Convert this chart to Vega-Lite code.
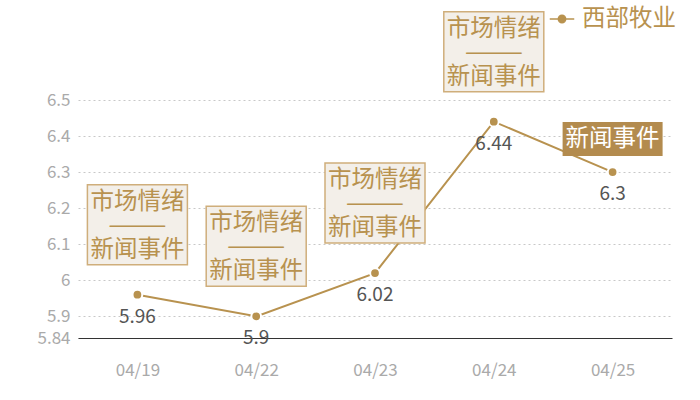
{
  "$schema": "https://vega.github.io/schema/vega-lite/v6.json",
  "width": 594,
  "height": 238,
  "autosize": "none",
  "padding": {"left": 78, "top": 100, "right": 28, "bottom": 62},
  "background": "white",
  "config": {
    "view": {"stroke": null},
    "font": "Noto Sans CJK SC"
  },
  "data": {
    "values": [
      {"date": "04/19", "value": 5.96, "series": "西部牧业", "kind": "both", "note": "市场情绪\n———\n新闻事件"},
      {"date": "04/22", "value": 5.9, "series": "西部牧业", "kind": "both", "note": "市场情绪\n———\n新闻事件"},
      {"date": "04/23", "value": 6.02, "series": "西部牧业", "kind": "both", "note": "市场情绪\n———\n新闻事件"},
      {"date": "04/24", "value": 6.44, "series": "西部牧业", "kind": "both", "note": "市场情绪\n———\n新闻事件"},
      {"date": "04/25", "value": 6.3, "series": "西部牧业", "kind": "news", "note": "新闻事件"}
    ]
  },
  "encoding": {
    "x": {
      "field": "date", "type": "ordinal",
      "scale": {"type": "point", "padding": 0.5},
      "axis": {
        "title": null, "labelAngle": 0, "ticks": false, "grid": false,
        "domainColor": "#333", "domainWidth": 1.2,
        "labelColor": "#aaa", "labelFontSize": 17, "labelPadding": 24
      }
    },
    "y": {
      "field": "value", "type": "quantitative",
      "scale": {"domain": [5.84, 6.5], "zero": false, "nice": false},
      "axis": {
        "title": null, "domain": false, "ticks": false,
        "values": [5.84, 5.9, 6, 6.1, 6.2, 6.3, 6.4, 6.5],
        "labelExpr": "'' + datum.value",
        "grid": true, "gridColor": "#c8c8c8", "gridDash": [2, 3],
        "labelColor": "#aaa", "labelFontSize": 17, "labelPadding": 8
      }
    }
  },
  "layer": [
    {
      "mark": {"type": "line", "strokeWidth": 2},
      "encoding": {
        "color": {
          "field": "series", "type": "nominal",
          "scale": {"range": ["#b8924f"]},
          "legend": {
            "title": null, "orient": "none", "legendX": 471, "legendY": -94,
            "symbolType": "M-1,0L1,0M-0.3,0A0.3,0.3,0,1,1,0.3,0A0.3,0.3,0,1,1,-0.3,0Z",
            "symbolSize": 600, "symbolFillColor": "#b8924f", "symbolStrokeColor": "#b8924f",
            "symbolStrokeWidth": 1.5,
            "labelFontSize": 23.5, "labelColor": "#b8924f", "labelOffset": 7
          }
        }
      }
    },
    {
      "mark": {"type": "point", "filled": true, "fill": "#b8924f", "stroke": "white", "strokeWidth": 2, "size": 95, "opacity": 1}
    },
    {
      "transform": [{"filter": "datum.kind === 'both'"}],
      "mark": {"type": "rect", "width": 100, "height": 80, "yOffset": -70, "fill": "#f3efe9", "stroke": "#cfae7b", "strokeWidth": 1.5}
    },
    {
      "transform": [{"filter": "datum.kind === 'both'"}],
      "mark": {"type": "text", "lineBreak": "\n", "lineHeight": 24, "fontSize": 23.5, "color": "#b8924f", "baseline": "middle", "dy": -93},
      "encoding": {"text": {"field": "note", "type": "nominal"}}
    },
    {
      "transform": [{"filter": "datum.kind === 'news'"}],
      "mark": {"type": "rect", "width": 100, "height": 34, "yOffset": -33, "fill": "#b38b4e"}
    },
    {
      "transform": [{"filter": "datum.kind === 'news'"}],
      "mark": {"type": "text", "fontSize": 23.5, "color": "white", "baseline": "middle", "dy": -33},
      "encoding": {"text": {"field": "note", "type": "nominal"}}
    },
    {
      "mark": {"type": "text", "fontSize": 19, "color": "#555", "baseline": "middle", "dy": 22},
      "encoding": {"text": {"field": "value", "type": "nominal"}}
    }
  ]
}
